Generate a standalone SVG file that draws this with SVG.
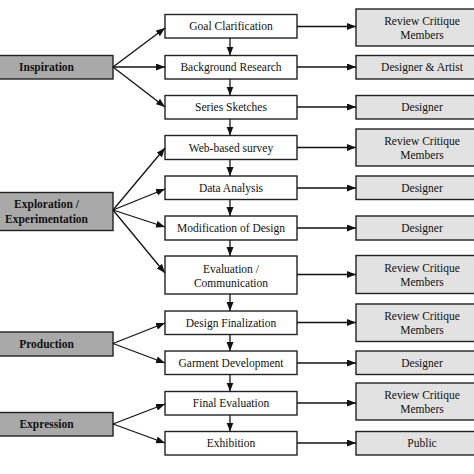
<svg xmlns="http://www.w3.org/2000/svg" width="474" height="474" viewBox="0 0 474 474">
<style>
.mid{fill:#fff;stroke:#222;stroke-width:1.4}
.res{fill:#e2e2e2;stroke:#222;stroke-width:1.4}
.ph{fill:#a9a9a9;stroke:#222;stroke-width:1.4}
text{font-size:11.5px;fill:#111;text-anchor:middle}
.b{font-weight:bold}
.c line{stroke:#111;stroke-width:1.3;marker-end:url(#ah)}
</style>
<defs>
<marker id="ah" markerUnits="userSpaceOnUse" markerWidth="10" markerHeight="8" refX="9" refY="3.5" orient="auto">
<path d="M0,0 L9,3.5 L0,7 z" fill="#111"/>
</marker>
</defs>
<g font-family="Liberation Serif, DejaVu Serif, serif">
<g id="phase-inspiration"><rect class="ph" x="-20" y="55.5" width="133" height="23.5"/><text class="b" x="46.5" y="71">Inspiration</text></g>
<g id="phase-exploration"><rect class="ph" x="-20" y="192.5" width="133" height="38"/><text class="b" x="46.5" y="208">Exploration /</text><text class="b" x="46.5" y="223">Experimentation</text></g>
<g id="phase-production"><rect class="ph" x="-20" y="332" width="133" height="24"/><text class="b" x="46.5" y="348">Production</text></g>
<g id="phase-expression"><rect class="ph" x="-20" y="412.5" width="133" height="23.5"/><text class="b" x="46.5" y="428">Expression</text></g>

<g id="s1"><rect class="mid" x="165" y="14.5" width="132" height="23.5"/><text x="231" y="30">Goal Clarification</text></g>
<g id="s2"><rect class="mid" x="165" y="55.5" width="132" height="23.5"/><text x="231" y="71">Background Research</text></g>
<g id="s3"><rect class="mid" x="165" y="95.5" width="132" height="23.5"/><text x="231" y="111">Series Sketches</text></g>
<g id="s4"><rect class="mid" x="165" y="135.5" width="132" height="24"/><text x="231" y="151.5">Web-based survey</text></g>
<g id="s5"><rect class="mid" x="165" y="176" width="132" height="23.5"/><text x="231" y="191.5">Data Analysis</text></g>
<g id="s6"><rect class="mid" x="165" y="216" width="132" height="24"/><text x="231" y="232">Modification of Design</text></g>
<g id="s7"><rect class="mid" x="165" y="256" width="132" height="38"/><text x="231" y="273">Evaluation /</text><text x="231" y="286.5">Communication</text></g>
<g id="s8"><rect class="mid" x="165" y="311" width="132" height="23.5"/><text x="231" y="326.5">Design Finalization</text></g>
<g id="s9"><rect class="mid" x="165" y="351" width="132" height="23.5"/><text x="231" y="366.5">Garment Development</text></g>
<g id="s10"><rect class="mid" x="165" y="391.5" width="132" height="23.5"/><text x="231" y="407">Final Evaluation</text></g>
<g id="s11"><rect class="mid" x="165" y="431.5" width="132" height="23.5"/><text x="231" y="447">Exhibition</text></g>

<g id="r1"><rect class="res" x="356" y="9" width="130" height="37"/><text x="422" y="25">Review Critique</text><text x="422" y="38.5">Members</text></g>
<g id="r2"><rect class="res" x="356" y="55.5" width="130" height="23.5"/><text x="422" y="71">Designer &amp; Artist</text></g>
<g id="r3"><rect class="res" x="356" y="95.5" width="130" height="23.5"/><text x="422" y="111">Designer</text></g>
<g id="r4"><rect class="res" x="356" y="129" width="130" height="37"/><text x="422" y="145">Review Critique</text><text x="422" y="158.5">Members</text></g>
<g id="r5"><rect class="res" x="356" y="176" width="130" height="23.5"/><text x="422" y="191.5">Designer</text></g>
<g id="r6"><rect class="res" x="356" y="216" width="130" height="24"/><text x="422" y="232">Designer</text></g>
<g id="r7"><rect class="res" x="356" y="255.5" width="130" height="38"/><text x="422" y="272">Review Critique</text><text x="422" y="285.5">Members</text></g>
<g id="r8"><rect class="res" x="356" y="304" width="130" height="37.5"/><text x="422" y="320">Review Critique</text><text x="422" y="333.5">Members</text></g>
<g id="r9"><rect class="res" x="356" y="351" width="130" height="23.5"/><text x="422" y="366.5">Designer</text></g>
<g id="r10"><rect class="res" x="356" y="383" width="130" height="37"/><text x="422" y="399">Review Critique</text><text x="422" y="412.5">Members</text></g>
<g id="r11"><rect class="res" x="356" y="431.5" width="130" height="23.5"/><text x="422" y="447">Public</text></g>
</g>

<g id="connectors" class="c">
<line x1="113" y1="67" x2="165" y2="28"/>
<line x1="113" y1="67" x2="165" y2="67"/>
<line x1="113" y1="67" x2="165" y2="107"/>
<line x1="113" y1="210" x2="165" y2="148"/>
<line x1="113" y1="210" x2="165" y2="189"/>
<line x1="113" y1="210" x2="165" y2="227"/>
<line x1="113" y1="210" x2="165" y2="273"/>
<line x1="113" y1="343.5" x2="165" y2="323"/>
<line x1="113" y1="343.5" x2="165" y2="363"/>
<line x1="113" y1="424" x2="165" y2="404"/>
<line x1="113" y1="424" x2="165" y2="443"/>
<line x1="230" y1="38" x2="230" y2="55.5"/>
<line x1="230" y1="79" x2="230" y2="95.5"/>
<line x1="230" y1="119" x2="230" y2="135.5"/>
<line x1="230" y1="159.5" x2="230" y2="176"/>
<line x1="230" y1="199.5" x2="230" y2="216"/>
<line x1="230" y1="240" x2="230" y2="256"/>
<line x1="230" y1="294" x2="230" y2="311"/>
<line x1="230" y1="334.5" x2="230" y2="351"/>
<line x1="230" y1="374.5" x2="230" y2="391.5"/>
<line x1="230" y1="415" x2="230" y2="431.5"/>
<line x1="297" y1="26.5" x2="356" y2="26.5"/>
<line x1="297" y1="67" x2="356" y2="67"/>
<line x1="297" y1="107" x2="356" y2="107"/>
<line x1="297" y1="147.5" x2="356" y2="147.5"/>
<line x1="297" y1="188" x2="356" y2="188"/>
<line x1="297" y1="228" x2="356" y2="228"/>
<line x1="297" y1="274.5" x2="356" y2="274.5"/>
<line x1="297" y1="322.5" x2="356" y2="322.5"/>
<line x1="297" y1="363" x2="356" y2="363"/>
<line x1="297" y1="403" x2="356" y2="403"/>
<line x1="297" y1="443" x2="356" y2="443"/>
</g>
</svg>
